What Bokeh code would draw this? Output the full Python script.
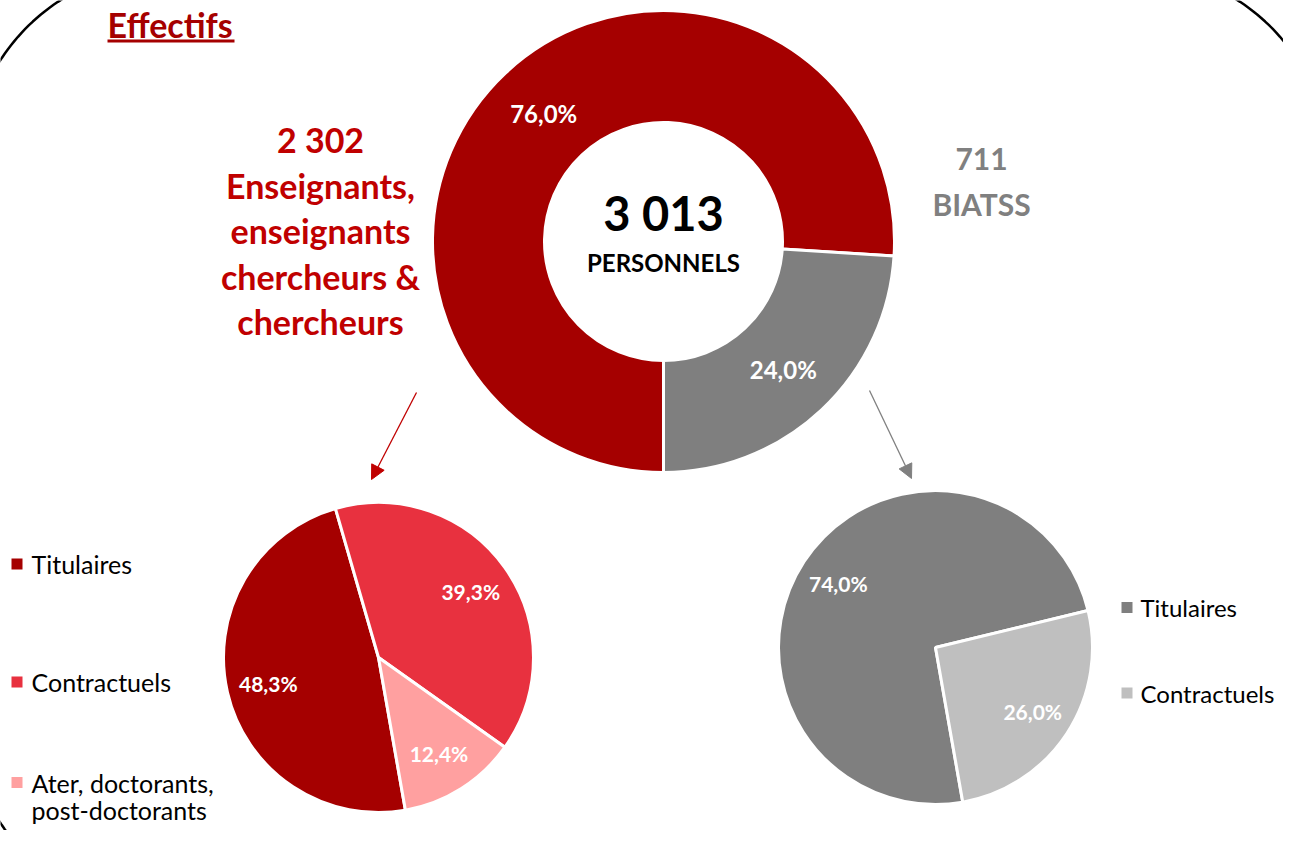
import numpy as np
from bokeh.plotting import figure
from bokeh.models import Range1d, Arrow, NormalHead
from bokeh.core.properties import value
from bokeh.embed import file_html
from bokeh.resources import INLINE

# ---------------- data ----------------
title = "Effectifs"
total_count = "3 013"
total_label = "PERSONNELS"

main_cats = ["Enseignants, enseignants chercheurs & chercheurs", "BIATSS"]
main_pct = [76.0, 24.0]
main_colors = ["#A50000", "#7F7F7F"]

ens_count = "2 302"
ens_title_lines = ["Enseignants,", "enseignants", "chercheurs &", "chercheurs"]
ens_cats = ["Titulaires", "Contractuels", "Ater, doctorants,\npost-doctorants"]
ens_pct = [48.3, 39.3, 12.4]
ens_colors = ["#A50000", "#E8313F", "#FFA0A0"]

biatss_count = "711"
biatss_title = "BIATSS"
biatss_cats = ["Titulaires", "Contractuels"]
biatss_pct = [74.0, 26.0]
biatss_colors = ["#7F7F7F", "#BFBFBF"]

# ---------------- layout ----------------
H = 846
FONT = "Lato"


def Y(ypix):
    return H - ypix


p = figure(width=1283, height=830, output_backend="svg", toolbar_location=None,
           x_range=Range1d(0, 1283), y_range=Range1d(16, 846), min_border=0)
p.axis.visible = False
p.grid.visible = False
p.outline_line_color = None
p.background_fill_color = "white"
p.border_fill_color = "white"

# rounded frame
L, T, R_, B, rad = -32, -32, 1329, 914, 200
pts = []
for (cx, cy, a0, a1) in [(L + rad, T + rad, 180, 270), (R_ - rad, T + rad, 270, 360),
                         (R_ - rad, B - rad, 0, 90), (L + rad, B - rad, 90, 180)]:
    a = np.radians(np.linspace(a0, a1, 60))
    pts += list(zip(cx + rad * np.cos(a), cy + rad * np.sin(a)))
pts.append(pts[0])
p.line([q[0] for q in pts], [Y(q[1]) for q in pts], line_color="black", line_width=2.5)


def txt(xs, ys, texts, color, size, bold=True, align="center"):
    p.text(x=xs, y=[Y(v) for v in ys], text=texts, text_color=color, text_font=value(FONT),
           text_font_style="bold" if bold else "normal", text_font_size=size,
           text_align=align, text_baseline="middle")


def pie(cx, cy, pcts, colors, start_cw, r_out, r_in=None, lab_r=0.72, lab_size="21px"):
    bounds = start_cw + np.concatenate([[0], np.cumsum(np.array(pcts) / 100.0 * 360.0)])
    ta, tb = bounds[:-1], bounds[1:]
    sa = np.radians(90 - tb)
    ea = np.radians(90 - ta)
    if r_in is None:
        p.wedge(x=cx, y=Y(cy), radius=r_out, start_angle=sa, end_angle=ea,
                fill_color=colors, line_color="white", line_width=3)
        lr = lab_r * r_out
    else:
        p.annular_wedge(x=cx, y=Y(cy), inner_radius=r_in, outer_radius=r_out,
                        start_angle=sa, end_angle=ea,
                        fill_color=colors, line_color="white", line_width=3)
        lr = (r_in + r_out) / 2
    mid = np.radians((ta + tb) / 2)
    lx = cx + lr * np.sin(mid)
    ly = cy - lr * np.cos(mid)
    labels = [("%.1f%%" % v).replace(".", ",") for v in pcts]
    txt(list(lx), list(ly), labels, "white", lab_size)


# main donut
pie(663, 241, main_pct, main_colors, 180, 231, r_in=119, lab_size="24px")
# sub pies
pie(378, 657, ens_pct, ens_colors, 170, 155, lab_r=0.73)
pie(935, 647, biatss_pct, biatss_colors, 170, 157, lab_r=0.74)

# centre text
txt([663], [212], [total_count], "black", "47px")
txt([663], [261.5], [total_label], "black", "24px")

# title
txt([107], [23.5], [title], "#A50000", "34px", align="left")
p.segment(x0=[107], y0=[Y(40.5)], x1=[234], y1=[Y(40.5)], line_color="#A50000", line_width=3)

# left red block
red_lines = [ens_count] + ens_title_lines
red_mid = [139, 185, 230, 276, 321]
txt([320] * len(red_lines), red_mid, red_lines, "#C00000", "34px")

# right gray block
txt([981, 981], [158, 203], [biatss_count, biatss_title], "#808080", "30px")

# arrows
p.add_layout(Arrow(end=NormalHead(size=14, fill_color="#C00000", line_color="#C00000"),
                   x_start=416, y_start=Y(392), x_end=371, y_end=Y(479),
                   line_color="#C00000", line_width=1.3))
p.add_layout(Arrow(end=NormalHead(size=14, fill_color="#808080", line_color="#808080"),
                   x_start=869, y_start=Y(390), x_end=911, y_end=Y(478),
                   line_color="#808080", line_width=1.3))

# legends
leg_l_sq = [563.5, 681.5, 782]
p.rect(x=[16.5] * 3, y=[Y(v) for v in leg_l_sq], width=11, height=11,
       fill_color=ens_colors, line_color=None)
leg_l_text, leg_l_mid = [], []
for cat, b in zip(ens_cats, leg_l_sq):
    for k, ln in enumerate(cat.split("\n")):
        leg_l_text.append(ln)
        leg_l_mid.append(b + 27 * k)
txt([31] * len(leg_l_text), leg_l_mid, leg_l_text, "black", "25px", bold=False, align="left")

leg_r_sq = [607, 692.5]
p.rect(x=[1126.5] * 2, y=[Y(v) for v in leg_r_sq], width=11, height=11,
       fill_color=biatss_colors, line_color=None)
txt([1140] * 2, leg_r_sq, biatss_cats, "black", "24px", bold=False, align="left")

open("out.html", "w").write(file_html(p, INLINE))
